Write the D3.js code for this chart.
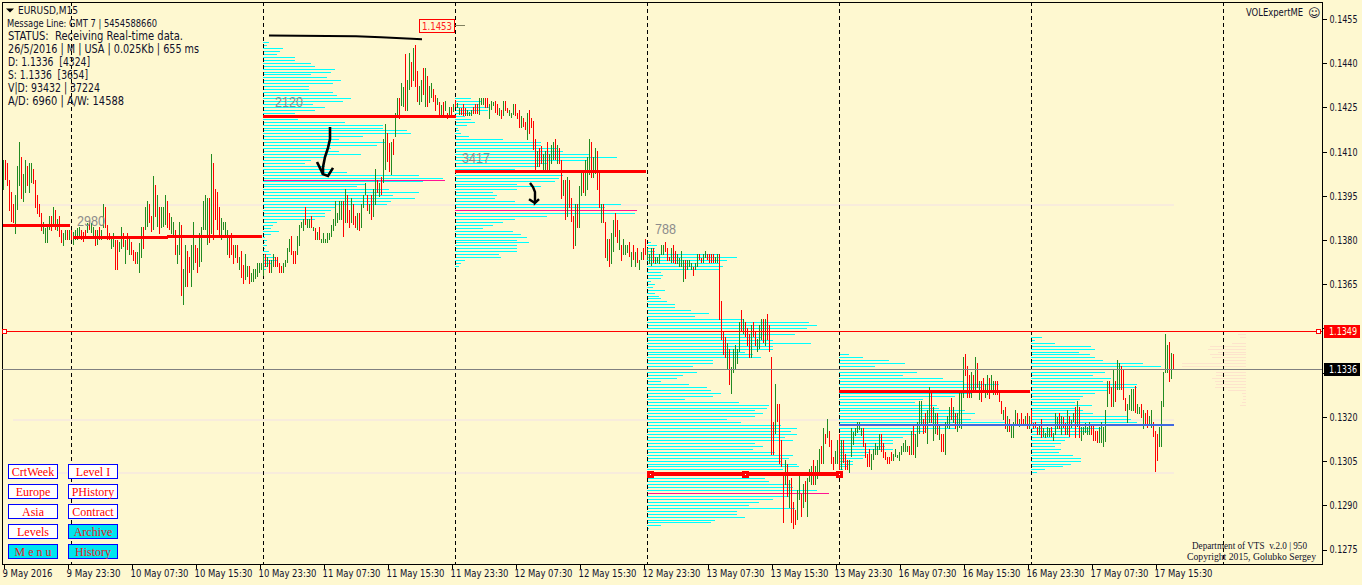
<!DOCTYPE html>
<html><head><meta charset="utf-8">
<style>
html,body{margin:0;padding:0;background:#fef8d0;overflow:hidden}
svg{display:block}
text{font-family:"DejaVu Sans";font-stretch:condensed;fill:#10102a;white-space:pre}
.serif{font-family:"Liberation Serif";font-stretch:normal}
</style>
<script src="https://cdn.jsdelivr.net/npm/d3@7"></script>
</head><body><svg id="c" width="1362" height="585"></svg>
<script>
// Prices are in pips above 1.0000 (1455 = 1.1455). Bars: flat [open, close, open, close, ...]; index 0 is the first bar.
const bars9May=[1396.8,1407,1407,1400.2,1406,1398,1400.2,1389.7,1396.2,1385.8,1392.1,1385.5,1382,1395.1,1390.1,1405,1398,1413.1,1407.9,1393.8,1392.8,1402.2,1395.7,1407,1405,1398,1395.8,1406,1399.1,1406,1404,1398.9,1400.2,1390.7,1395.1,1388.7,1392.1,1387.8,1388.9,1383,1381.9,1386,1378.9,1384,1378.9,1384.4,1383.3,1388,1388,1382.9,1384.4,1391,1390.1,1383.3,1383,1387,1388,1381,1383.3,1378.9,1377.9,1382.1,1379.9,1383.3,1383.3,1379.9,1379.9,1383.3,1383.3,1379.9,1378.2,1382.7,1379.9,1383.3,1379.9,1383.8,1380.1,1384.3,1383.3,1379.9,1382.4,1379,1383.3,1380.1,1382.1,1385.5,1386.7,1383.3,1382.1,1385.5,1381,1384.4,1383.3,1377.9,1378,1383.3,1384.4,1379.9,1379.9,1383.3,1383.8,1392.1,1391.1,1383.8,1385,1379.9,1382.1,1379.9,1376.8,1380.8,1377.6,1382.1,1379.9,1369.7,1379.9,1369.7,1375.9,1379.3,1376.8,1384.3,1382.1,1377.6,1371.7,1379.9,1382.1,1376.5,1374.8,1381,1379.3,1374.8,1376.5,1372.8,1375.9,1371.7,1371.7,1375.9,1368.6,1378.8,1373.8,1384.3,1384.3,1376.8,1383.3,1391.1,1384.4,1393.1,1392.1,1385.5,1388,1382.7,1383.3,1401.4,1398.5,1387.8,1384.4,1395.1,1391.1,1381.9,1383.8,1391.1,1384.4,1391.1,1385,1395.1,1393.1,1383.8,1388.9,1383.3,1381.9,1387.8,1380.4,1386,1383.3,1374.8,1371.7,1378.2,1374.8,1386,1385,1360.9,1357.8,1370,1364,1378.2,1376.1,1364,1374.1,1368.6,1364,1378.2,1369.7,1386,1378.2,1372,1377,1368.6,1370.8,1382.1,1372.5,1384.3,1383.3,1393.1,1383.3,1395.1,1378.2,1394.1,1394.1,1378.7,1381.9,1409.1,1406,1379.9,1397.2,1386.7,1396.2,1383.3,1391.1,1381,1379.9,1387.2,1383.3,1386,1381,1386,1374.8,1383.3,1381,1373.7,1382.2,1374.8,1378.2,1371.7,1373.7,1378.2,1378.2,1372,1369.7,1374.2,1376.1,1366.9,1371.4,1365,1366.3,1375.1,1367.4,1371,1371,1365,1365.7,1368.6,1365.6,1369.9,1366.5,1369.9,1367.4,1372,1368.6,1372.2];
const bars10May=[1369.7,1371.9,1367.6,1374.8,1375.1,1370.8,1370.8,1374,1373.1,1368.7,1368.7,1373.1,1370.8,1375.1,1374,1370.8,1374,1370.8,1372,1368.7,1371,1368.7,1368.7,1371.9,1370.8,1373.1,1371.9,1377.1,1375.9,1380.2,1381.2,1374.9,1376.1,1371.7,1376.1,1371.7,1374.8,1381.2,1377.8,1384.9,1383.9,1385.9,1382.9,1387,1391,1384.9,1383.9,1387,1383.9,1387,1388,1383.9,1382.9,1384.4,1383.9,1379.8,1379.8,1382.7,1384.4,1379.8,1378.8,1380.2,1378.8,1382.1,1378.8,1380.2,1378.8,1382.1,1379.8,1382.1,1381,1384.9,1382.9,1387,1384.6,1393.1,1385.5,1388.9,1386.6,1393.1,1386.6,1393.1,1393.1,1381,1385.5,1397.2,1395.1,1385.5,1390,1383.9,1385.5,1394.1,1392.1,1384.9,1388,1383.9,1383.2,1388.9,1388.9,1382.9,1383.9,1392.1,1390.6,1395.1,1395.1,1399.2,1395.1,1389.7,1388.7,1392.1,1395.1,1386.6,1387.8,1397.2];
const bars11May=[1391.7,1403.9,1400.2,1395.7,1394.6,1399.1,1401.3,1395.1,1399.1,1414.1,1403.6,1419.2,1416,1406.4,1412.7,1403,1401.9,1413.2,1414,1408.7,1414.7,1422.8,1421.7,1428,1428,1421,1425.3,1433,1425.1,1431.9,1443,1423.7,1423.7,1434.1,1430.7,1443.2,1440.4,1431.9,1433.9,1444.9,1446,1431.9,1437.3,1426.8,1425.7,1432.1,1426.8,1434.1,1438.1,1429.1,1424.9,1438.1,1435.5,1424.9,1426.2,1432.1,1427.9,1433,1431,1426.8,1429.1,1423.7,1425.7,1428,1426.8,1421.7,1421.7,1425.7,1426.8,1421.7,1423.7,1426.9,1422.8,1421,1421.7,1424.9,1424.9,1421.7,1423.4,1426,1427.4,1425.1];
const bars12May=[1424.5,1426.2,1422.2,1424.8,1424.8,1422.2,1425.9,1421.9,1424.8,1421.9,1421.9,1423.9,1421.9,1423.2,1421.9,1423.9,1425,1422.6,1425.9,1422.6,1425.9,1422.6,1422.1,1427.9,1425.7,1428,1425.7,1428,1428,1424.6,1428,1424.6,1421,1425.9,1423.9,1427,1425.3,1426.6,1427,1422.8,1425.9,1422.2,1421.9,1424.8,1423.9,1421,1421.9,1427,1427,1423.5,1424.8,1422.8,1421.9,1423.9,1421.2,1422.8,1422.2,1425.9,1425.9,1421.9,1422.8,1420.9,1423.9,1417.7,1417.7,1421.9,1421.2,1418.3,1419.8,1417.1,1413.7,1422.9,1423.9,1415.8,1421.2,1417.8,1420.2,1410.3,1414,1403.6,1404.5,1410,1410.9,1404.5,1411.9,1405.6,1403.6,1408.9,1403.6,1410,1413.1,1403.6,1403.6,1409,1405.6,1412,1406.9,1413.1,1414,1406.9,1405.6,1412,1410.9,1405.6,1406.9,1393.7,1394.7,1400.2,1400.2,1386.6,1387.7,1401.1,1400.2,1390.7,1394,1386.1,1387.9,1376.9,1377.9,1392,1392,1383.9,1383.9,1398.1,1394.7,1403.6,1403.6,1395.7,1394.7,1406.9,1396.8,1408,1402,1414,1413.1,1400.8,1400.8,1408.1,1402.4,1411,1410,1396.8,1402.7,1390.7,1385.7,1392,1392,1385.7,1385.9,1373.7,1372.7,1380.1,1380.1,1370.8,1371.7,1382.1,1375.8,1386.8,1388.9,1380.9,1386.8,1378.7,1376.4,1383.2,1378.1,1372.7,1374.7,1380.1,1374.7,1378.1,1375.3,1378.1,1379,1374.1,1370.8,1375.8,1378.1,1373,1370.8,1375.8,1377.1,1371.9,1369.6,1373,1373,1375.8,1377.1,1373,1380.1,1374.7,1373,1377.1];
const bars13May=[1371.7,1375,1371,1377.1,1377.1,1371.9,1371.7,1374,1371.9,1374,1371.7,1375,1374.7,1378.1,1374.7,1378.1,1379.1,1375.8,1377.1,1372.8,1374.1,1372.8,1371.9,1377.1,1378.1,1371.9,1376.1,1371.7,1371.7,1375,1370.8,1373.9,1370.8,1376.1,1365.7,1373,1373,1366.5,1369.6,1373,1370.8,1373,1369.6,1371.9,1370.8,1367.6,1369.6,1371.9,1370.8,1375,1375,1373,1373.9,1371.9,1371.9,1375,1373.6,1376.1,1375,1373,1375,1371.9,1375,1371.9,1375,1371.9,1371.9,1374.1,1371.9,1375,1375,1352.7,1359.1,1345.9,1348.9,1340.8,1346.9,1339.9,1335.9,1345,1343,1330.6,1327.5,1336.8,1334.8,1343,1335.9,1344.2,1337.7,1343,1341.9,1352,1356,1348.7,1348.1,1352.9,1352,1346.8,1349.9,1343.8,1347.9,1339.9,1339.9,1351,1352,1346.8,1349,1343.8,1341.9,1346.1,1343,1351,1345.9,1352.9,1352.9,1345,1343.8,1352.9,1354.9,1345.9,1351,1341.9,1340.1,1306.8,1318.2,1306.8,1314,1330.9,1324.2,1318.2,1324.2,1303.8,1311.9,1302.9,1301,1283.9,1296.7,1305.2,1304,1292.7,1288.8,1298.4,1299,1283.9,1290.9,1281.9,1288.2,1283.1,1284.8,1295,1291.6,1299.7,1293.8,1285.9,1288.9,1297.2,1298,1290.9,1285.9,1299,1297.8,1302.2,1296.7,1303.1,1305.2,1296.7,1296.7,1303.1,1298.7,1305.2,1300.6,1308.9,1309.9,1303.8,1303.8,1316,1314,1310.6,1312.6,1319,1315,1309.7,1311.9,1303.8,1306.3,1301.8,1303.8,1308.2,1303.8,1311.9,1314,1301.8];
const bars16May=[1301.8,1312,1312,1304.1,1307.2,1301.8,1305.2,1301.8,1300.9,1305.2,1306.1,1316,1310.3,1314.7,1313.3,1316,1314.2,1318.1,1315.4,1318.1,1313.3,1316,1316,1309.7,1311.1,1305.9,1307.2,1302.7,1309,1302.9,1301.8,1307.2,1305.2,1309,1306.9,1311.1,1306.9,1309.9,1308.6,1314,1314,1307.9,1311.1,1305.9,1307.9,1305.2,1306.3,1303.8,1306.3,1303.8,1307.9,1304.9,1304.9,1307.2,1306.3,1309,1305.9,1306.9,1304.9,1307.9,1306.9,1309.9,1307.9,1311.1,1307.9,1312,1307.9,1309.9,1309.9,1306.9,1306.9,1315,1317.1,1306.9,1305.9,1314,1309.7,1318.1,1314,1325.2,1317.1,1325.2,1319,1314,1321,1314.2,1310.6,1322.2,1317.6,1329.8,1327.8,1317.6,1311.6,1323.3,1314,1321,1321,1313.7,1312,1317.1,1314,1307.9,1314,1307.9,1306.9,1318.1,1315.9,1320.1,1315.6,1323.1,1326.2,1318.8,1317.6,1323.1,1321,1315.7,1314.7,1321,1315.9,1327.8,1315.7,1327.8,1326.1,1340.1,1341.2,1333.7,1337.1,1326.1,1334,1326.1,1326.1,1335,1334,1328.9,1328.9,1340.1,1338.1,1329.5,1325.5,1332,1332,1324.9,1333,1327.8,1326.1,1331,1327.2,1334,1333,1325.9,1327.8,1334,1327.2,1332,1332,1327.2,1332,1327.2,1328.9,1325,1325.2,1320.8,1318.8,1322.2,1323.1,1315.7,1314.8,1320.1,1319,1314.7,1312.8,1316.7,1312.8,1318.2,1316.7,1322.2,1321,1316.7,1316.5,1319,1321,1316.7,1319,1316.7,1316.7,1320.1,1321,1315.7,1315.7,1320.1,1322.2,1316.7,1317.9,1315.7];
const bars17May=[1318.2,1315.9,1316.3,1313.7,1313.7,1317.1,1319.2,1312.5,1313.1,1315.9,1312.8,1314.2,1312.9,1316.3,1312.9,1315.9,1316.3,1312.9,1311.8,1314.2,1313.7,1321,1315.8,1319.7,1321,1315.8,1313.7,1320.1,1319.9,1315.9,1317.6,1313.7,1313.7,1322.2,1320.1,1313.1,1315.9,1318.8,1318.2,1321,1323.1,1312.5,1316.5,1325.2,1323.3,1312.5,1311.8,1316.5,1313.7,1316.3,1314.2,1317.6,1313.7,1316.5,1313.7,1318.2,1317.1,1313.7,1317.1,1311.8,1315,1311.8,1315,1311.1,1311.1,1316.3,1310.9,1318.2,1309.7,1316.3,1311.4,1322.2,1323.1,1331.9,1331.9,1327.6,1329.9,1323.1,1323.1,1336,1331.9,1325,1328.9,1339.1,1328.9,1338,1337.1,1328.9,1336,1325.6,1326.2,1321.9,1317.9,1324.2,1322.2,1327.2,1321.9,1329.2,1321.9,1329.2,1330.3,1321,1320.8,1324.2,1320.8,1323.1,1324.2,1319.3,1315.8,1322.2,1321,1316.9,1322.2,1315.9,1316.9,1320.1,1315.9,1322.2,1318.2,1312.9,1315,1301.1,1314,1305,1309.7,1316.3,1309.7,1325.2,1323.1,1335.1,1334.8,1347.9,1334.6,1344.2,1345.2,1331.8,1332.8,1341.4,1341.2,1336];

// Volume profiles: one value per pip, going down from the top price.
const profileTops=[1447,1428,1379,1341,1347];
const profileStarts=[130,226,322,418,514];
const profile10May=[6,4,20,17,14,32,32,48,52,72,68,48,64,78,70,46,46,70,74,88,80,50,62,52,32,52,35,82,120,120,144,148,100,76,122,114,68,76,98,62,48,42,62,70,84,156,180,160,102,94,126,156,130,152,128,124,72,68,62,62,52,14,10,8,16,8,2,4,2,4,2,6,8,12,14,8,5,3];
const profile11May=[16,27,25,34,33,16,10,16,20,12,3,4,6,14,48,86,86,102,108,134,162,132,92,84,60,95,108,104,100,62,86,62,38,42,40,60,166,150,182,180,92,60,48,38,28,58,66,72,62,74,62,62,62,44,46,10,6,4];
const profile12May=[4,10,8,8,72,90,80,72,76,72,14,16,14,4,8,6,18,8,12,14,20,28,28,44,62,48,96,162,170,160,136,148,114,126,164,126,126,98,106,114,66,66,46,40,50,36,30,14,42,60,64,74,66,38,92,122,120,108,116,108,80,94,134,150,144,150,138,146,108,116,106,128,146,142,134,150,152,136,126,120,118,122,144,146,170,182,142,126,112,102,148,90,90,98,68,64,14,2];
const profile13May=[10,24,50,66,36,80,78,64,104,124,160,142,130,132,116,84,76,98,100,126,136,118,132,166,150,116,86,76,64,54,54,46,54,31,26,24,14,14,8,4];
const profile16May=[11,4,24,60,64,48,59,64,72,112,130,94,74,62,80,72,106,106,77,64,52,49,44,61,44,52,62,96,100,106,143,71,59,49,39,34,30,24,30,28,42,50,50,40,32,14,6];
const profile17Top=1348;
const profile17May=[8,6,0,14,36,38,28,36,34,24,64,64,69,30,30,34,31,30,31,18,4,3,3,4,6];

const sessionBars=[34,130,226,322,418,514,610];
// [from bar, to bar, price]
const pocRed=[[0,33.5,1384.8],[35,82.5,1380.8],[82,129.5,1381.1],[130,226.5,1421.7],[226,321.5,1403.1],[322,418,1300.4],[418,513.5,1328.5]];
const pocPink=[[130,221,1400.1],[226,317,1390],[322,413,1294],[586.5,621.5,1336.1]];
const pocBlue=[[418,514,1317.2],[514,585.5,1317.1]];
const faintLevels=[1392.1,1319.1,1301.1];
const pocMarkers=[[323.5,1300.4],[371,1300.4],[418,1300.4]];
const levelRed=1349, levelGray=1336;
const trendLine=[[133,1449.2],[176.5,1449],[189,1448.6],[209.5,1448]];
const arrowOne=[[163.5,1418.2],[163.5,1414.1],[162.5,1411.1],[161,1408],[160,1404.6],[160,1402.2],[162.5,1401.6],[165,1404.3]];
const arrowOneBarb=[[157,1406.3],[160,1402.2]];
const arrowTwo=[[263.5,1399.2],[265,1397.8],[266,1396.1],[266,1392.4],[268,1393.7]];
const arrowTwoBarb=[[263,1393.7],[266,1392.4]];

const priceTicks=[1455,1440,1425,1410,1395,1380,1365,1350,1335,1320,1305,1290,1275];
const coveredTicks=[1350,1335];
const timeLabels=["9 May 2016","9 May 23:30","10 May 07:30","10 May 15:30","10 May 23:30","11 May 07:30","11 May 15:30","11 May 23:30","12 May 07:30","12 May 15:30","12 May 23:30","13 May 07:30","13 May 15:30","13 May 23:30","16 May 07:30","16 May 15:30","16 May 23:30","17 May 07:30","17 May 15:30"];
const timeTicks=[0,32,64,96,128,160,192,224,256,288,320,352,384,416,448,480,512,544,576];
const volumeCaptions=[["2980",37,1384.6],["2120",136,1425],["3417",229.5,1406],["788",326,1381.9]];
const infoLines=["STATUS:  Receiving Real-time data.","26/5/2016 | M | USA | 0.025Kb | 655 ms","D: 1.1336  [4324]","S: 1.1336  [3654]","V|D: 93432 | 37224","A/D: 6960 | A/W: 14588"];
const infoWidths=[175,191,82,80,92,116];
const buttonLabels=[["CrtWeek","Europe","Asia","Levels","M e n u"],["Level I","PHistory","Contract","Archive","History"]];
const buttonActive=[[0,0,0,0,1],[0,0,0,1,1]];

const W=1362,H=585,L=2,T=2,R=1322,B=564;
const svg=d3.select("#c");
const x=d3.scaleLinear().domain([0,100]).range([3,203]);
const y=d3.scaleLinear().domain([1275,1455]).range([549,18.5]);
const vol=d3.scaleLinear().domain([0,100]).range([0,100]);
const bx=i=>x(i)+0.5;
const py=p=>Math.round(y(p))+0.5;
const crisp=g=>g.attr("shape-rendering","crispEdges");

const allFlat=[].concat(bars9May,bars10May,bars11May,bars12May,bars13May,bars16May,bars17May);
const bars=[];for(let i=0;i+1<allFlat.length;i+=2)bars.push({i:i/2,o:allFlat[i],c:allFlat[i+1]});

svg.append("rect").attr("width",W).attr("height",H).attr("fill","#fef8d0");

crisp(svg.append("g")).selectAll("line").data(faintLevels).join("line")
 .attr("x1",13).attr("x2",x(585.5)).attr("y1",d=>py(d)).attr("y2",d=>py(d))
 .attr("stroke","#f8ecdc").attr("stroke-width",2);

const prof=crisp(svg.append("g")).attr("stroke","#00ffff");
[profile10May,profile11May,profile12May,profile13May,profile16May].forEach((a,k)=>{
 prof.append("g").selectAll("line").data(a).join("line")
  .attr("x1",x(profileStarts[k])).attr("x2",d=>x(profileStarts[k])+vol(d))
  .attr("y1",(d,j)=>py(profileTops[k]-j)).attr("y2",(d,j)=>py(profileTops[k]-j));
});
crisp(svg.append("g")).selectAll("line").data(profile17May).join("line")
 .attr("stroke","#fde3cc")
 .attr("x1",x(621.5)).attr("x2",d=>x(621.5)-vol(d))
 .attr("y1",(d,j)=>py(profile17Top-j)).attr("y2",(d,j)=>py(profile17Top-j));

crisp(svg.append("g")).selectAll("line").data(pocPink).join("line")
 .attr("x1",d=>x(d[0])).attr("x2",d=>x(d[1])).attr("y1",d=>py(d[2])).attr("y2",d=>py(d[2]))
 .attr("stroke","#ff1493");

crisp(svg.append("g")).selectAll("line").data(sessionBars).join("line")
 .attr("x1",bx).attr("x2",bx).attr("y1",T).attr("y2",B)
 .attr("stroke","#000").attr("stroke-dasharray","4,3");

crisp(svg.append("g")).selectAll("line").data(bars).join("line")
 .attr("x1",d=>bx(d.i)).attr("x2",d=>bx(d.i))
 .attr("y1",d=>y(d.o)).attr("y2",d=>y(d.c))
 .attr("stroke",d=>d.c>=d.o?"#228b22":"#ff0000");

crisp(svg.append("g")).selectAll("line").data(pocBlue).join("line")
 .attr("x1",d=>x(d[0])).attr("x2",d=>x(d[1])).attr("y1",d=>y(d[2])).attr("y2",d=>y(d[2]))
 .attr("stroke","#4169e1").attr("stroke-width",2);
crisp(svg.append("g")).selectAll("line").data(pocRed).join("line")
 .attr("x1",d=>x(d[0])).attr("x2",d=>x(d[1])).attr("y1",d=>y(d[2])).attr("y2",d=>y(d[2]))
 .attr("stroke","#ff0000").attr("stroke-width",(d,i)=>i===5?4:3);
const mk=crisp(svg.append("g"));
mk.selectAll("rect.sq").data(pocMarkers).join("rect").attr("class","sq")
 .attr("x",d=>x(d[0])-3.5).attr("y",d=>y(d[1])-3.5).attr("width",7).attr("height",7).attr("fill","#ff0000");
mk.selectAll("rect.dot").data(pocMarkers).join("rect").attr("class","dot")
 .attr("x",d=>x(d[0])-.5).attr("y",d=>y(d[1])-.5).attr("width",1).attr("height",1).attr("fill","#fff");

const ln=d3.line().x(d=>x(d[0])).y(d=>y(d[1]));
svg.append("path").attr("d",ln(trendLine)).attr("fill","none").attr("stroke","#000").attr("stroke-width",2);
[[arrowOne,2.6],[arrowOneBarb,2.6],[arrowTwo,2.4],[arrowTwoBarb,2.4]].forEach(a=>
 svg.append("path").attr("d",ln(a[0])).attr("fill","none").attr("stroke","#000").attr("stroke-width",a[1]));

crisp(svg.append("rect")).attr("x",L+.5).attr("y",T+.5).attr("width",R-L).attr("height",B-T).attr("fill","none").attr("stroke","#000");

const lv=crisp(svg.append("g"));
lv.append("line").attr("x1",L).attr("x2",R).attr("y1",py(levelGray)).attr("y2",py(levelGray)).attr("stroke","#808080");
lv.append("line").attr("x1",L).attr("x2",R).attr("y1",py(levelRed)).attr("y2",py(levelRed)).attr("stroke","#ff0000");
[5,1319].forEach(px=>lv.append("rect").attr("x",px-2.5).attr("y",py(levelRed)-2).attr("width",4).attr("height",4).attr("fill","#fff").attr("stroke","#ff0000"));

const xAxis=d3.axisBottom(x).tickValues(timeTicks).tickSize(4).tickPadding(3).tickFormat((d,i)=>timeLabels[i]);
const gx=svg.append("g").attr("transform",`translate(0.5,${B+.5})`).call(xAxis);
gx.select(".domain").remove();
gx.selectAll("line").attr("stroke","#000").attr("shape-rendering","crispEdges");
gx.selectAll("text").attr("text-anchor","start").attr("dx",-1.5).attr("dy",0).attr("y",12.5)
 .attr("font-size",10.5).attr("font-family",null).attr("textLength",(d,i)=>i<2?(i?54:50):58).attr("lengthAdjust","spacingAndGlyphs").style("fill","#10102a");
const yAxis=d3.axisRight(y).tickValues(priceTicks).tickSize(4).tickPadding(3).tickFormat(d=>coveredTicks.includes(d)?"":(d/1e4).toFixed(4));
const gy=svg.append("g").attr("transform",`translate(${R+.5},0.5)`).call(yAxis);
gy.select(".domain").remove();
gy.selectAll("line").attr("stroke","#000").attr("shape-rendering","crispEdges");
gy.selectAll("text").filter(d=>!coveredTicks.includes(d)).attr("font-size",10.5).attr("font-family",null).attr("textLength",28).attr("lengthAdjust","spacingAndGlyphs").style("fill","#10102a");

function badge(p,bg,fg,txt){
 crisp(svg.append("rect")).attr("x",1324).attr("y",py(p)-6.5).attr("width",36).attr("height",13).attr("fill",bg);
 svg.append("text").attr("x",1329).attr("y",y(p)+4).attr("font-size",10.5).attr("textLength",28).attr("lengthAdjust","spacingAndGlyphs").style("fill",fg).text(txt);
}
badge(levelRed,"#ff0000","#ffffe0","1.1349");
badge(levelGray,"#000","#fff","1.1336");

crisp(svg.append("line")).attr("x1",455).attr("x2",465).attr("y1",25.5).attr("y2",25.5).attr("stroke","#808060");
crisp(svg.append("rect")).attr("x",419.5).attr("y",19.5).attr("width",35).attr("height",13).attr("fill","#fef8d0").attr("stroke","#ff0000");
svg.append("text").attr("x",422).attr("y",30).attr("font-size",11).attr("textLength",30).attr("lengthAdjust","spacingAndGlyphs").style("fill","#ff2020").text("1.1453");

svg.append("g").selectAll("text").data(volumeCaptions).join("text")
 .attr("x",d=>x(d[1])).attr("y",d=>y(d[2])).text(d=>d[0])
 .attr("font-size",15).attr("textLength",d=>d[0].length*7).attr("lengthAdjust","spacingAndGlyphs").style("fill","#8c8c8c")
 .style("font-family","Liberation Sans").style("font-stretch","normal");

svg.append("path").attr("d","M6,8.5h8l-4,4z").attr("fill","#000");
function t(str,px,py_,size,w,cls){const s=svg.append("text").attr("x",px).attr("y",py_).attr("font-size",size).text(str);
 if(w)s.attr("textLength",w).attr("lengthAdjust","spacingAndGlyphs"); if(cls)s.attr("class",cls); return s;}
t("EURUSD,M15",18,14,11,60);
t("Message Line: GMT 7 | 5454588660",7,27,10,150);
infoLines.forEach((s,i)=>t(s,8,40+i*13,11.5,infoWidths[i]));
t("VOLExpertME",1246,16,10,57);
svg.append("text").attr("x",1308).attr("y",16.5).attr("font-size",12).style("font-stretch","normal").text("\u263A");
t("Department of VTS  v.2.0 | 950",1192,549,10,115,"serif");
t("Copyright 2015, Golubko Sergey",1187,560,10,129,"serif");

buttonLabels.forEach((col,c)=>col.forEach((s,r)=>{
 const bxx=8+c*60,byy=464+r*20;
 crisp(svg.append("rect")).attr("x",bxx+.5).attr("y",byy+.5).attr("width",49).attr("height",14)
  .attr("fill",buttonActive[c][r]?"#00e5ee":"#ffffff").attr("stroke","#0000ff");
 svg.append("text").attr("class","serif").attr("x",bxx+25).attr("y",byy+11.5).attr("text-anchor","middle")
  .attr("font-size",12).style("fill",buttonActive[c][r]?"#e0201a":"#ff0000").text(s);
}));
</script></body></html>
